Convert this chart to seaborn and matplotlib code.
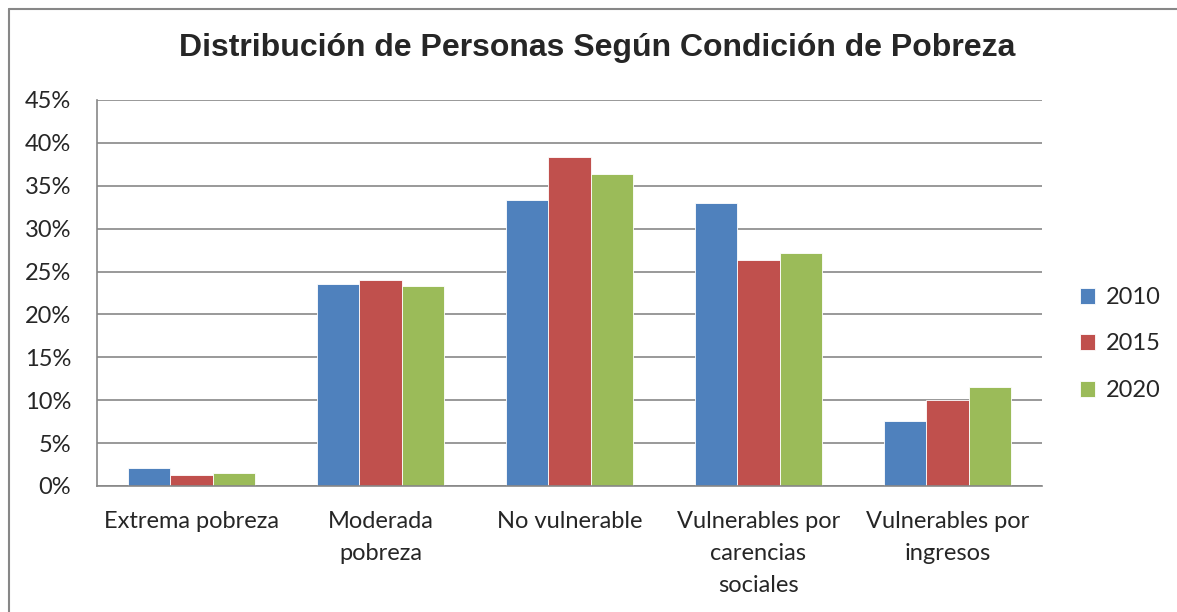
import pandas as pd
import seaborn as sns
import matplotlib.pyplot as plt
from matplotlib.lines import Line2D
from matplotlib.ticker import PercentFormatter

# Data (%)
categorias = ['Extrema pobreza', 'Moderada\npobreza', 'No vulnerable',
              'Vulnerables por\ncarencias\nsociales', 'Vulnerables por\ningresos']
anios = ['2010', '2015', '2020']
v2010 = [2.1, 23.6, 33.4, 33.0, 7.6]
v2015 = [1.3, 24.0, 38.3, 26.4, 10.0]
v2020 = [1.5, 23.3, 36.4, 27.2, 11.5]
colores = ['#4F81BD', '#C0504D', '#9BBB59']

df = pd.DataFrame({
    'Condicion': categorias * 3,
    'Anio': [a for a in anios for _ in categorias],
    'Valor': v2010 + v2015 + v2020,
})

sns.set_style('white')
plt.rcParams['font.family'] = ['Lato', 'DejaVu Sans']

W, H = 1177, 612
fig = plt.figure(figsize=(W / 100, H / 100), dpi=100)
ax = fig.add_axes([97 / W, 1 - 486 / H, (1042 - 97) / W, (486 - 100) / H])

sns.barplot(data=df, x='Condicion', y='Valor', hue='Anio', palette=colores,
            width=0.667, ax=ax, saturation=1, edgecolor='white', linewidth=0.6)

ax.set_ylim(0, 45)
ax.set_xlim(-0.5, 4.5)
ax.set_yticks(range(0, 46, 5))
ax.yaxis.set_major_formatter(PercentFormatter(decimals=0))
ax.yaxis.grid(True, color='#878787', linewidth=1.2)
ax.set_axisbelow(True)
ax.set_xlabel('')
ax.set_ylabel('')

for s in ['top', 'right']:
    ax.spines[s].set_visible(False)
for s in ['left', 'bottom']:
    ax.spines[s].set_color('#878787')
    ax.spines[s].set_linewidth(1.2)

ax.tick_params(axis='y', length=6.5, color='#878787', width=1.2, labelsize=17, pad=12)
ax.tick_params(axis='x', length=0, labelsize=17, pad=18)
for lbl in ax.get_xticklabels():
    lbl.set_linespacing(1.65)
    lbl.set_verticalalignment('top')

ax.legend(title=None, frameon=False, loc='center left', bbox_to_anchor=(1.04, 0.368),
          fontsize=17, handlelength=0.65, handleheight=0.65, labelspacing=1.08,
          handletextpad=0.45, borderpad=0, borderaxespad=0)

fig.text(0.507, 0.921, 'Distribución de Personas Según Condición de Pobreza',
         ha='center', va='center', fontsize=23, fontweight='bold',
         family='Liberation Sans')

# chart frame (left and top edges visible in the reference)
fig.add_artist(Line2D([8.5 / W, 8.5 / W], [0, 1 - 8.5 / H], transform=fig.transFigure,
                      color='#878787', linewidth=1.5))
fig.add_artist(Line2D([8.5 / W, 1], [1 - 8.5 / H, 1 - 8.5 / H], transform=fig.transFigure,
                      color='#878787', linewidth=1.5))

fig.savefig('out.png', dpi=100)
